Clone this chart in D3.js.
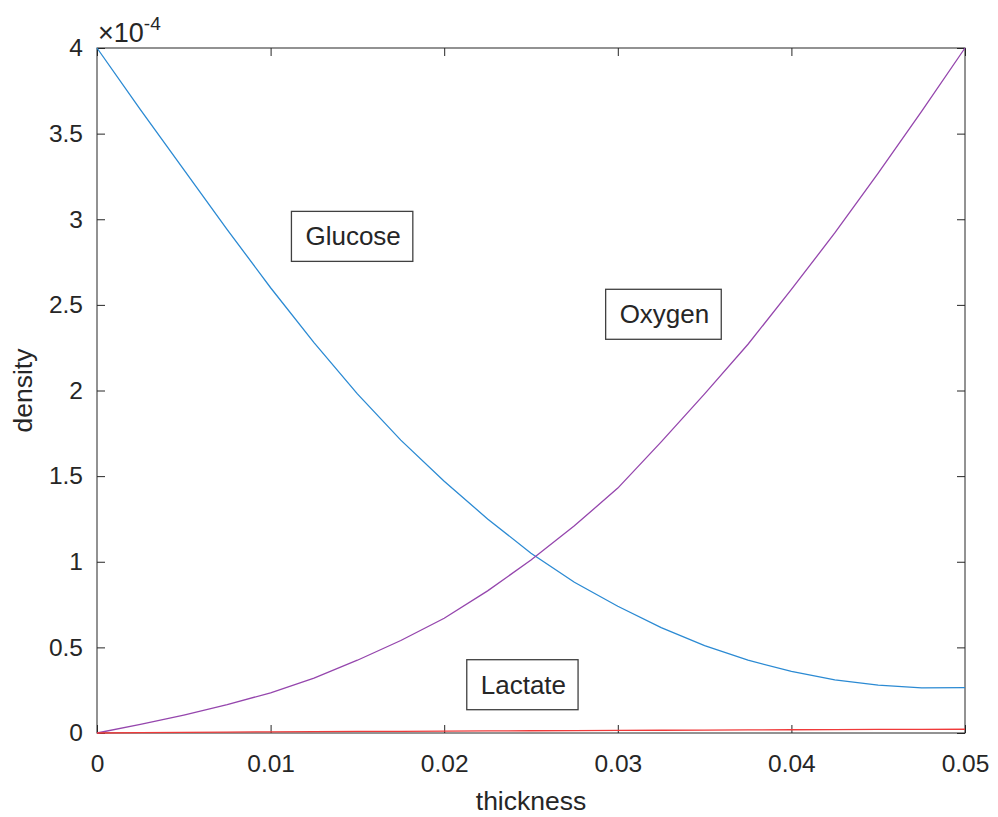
<!DOCTYPE html>
<html>
<head>
<meta charset="utf-8">
<script src="https://cdn.jsdelivr.net/npm/d3@7"></script>
<style>
  body { margin: 0; background: #fff; }
  text { font-family: "Liberation Sans", Arial, Helvetica, sans-serif; fill: #262626; }
</style>
</head>
<body>
<div id="chart"></div>
<script>
// thickness samples and densities (in units of 1e-4)
const thickness = [0, 0.0025, 0.005, 0.0075, 0.01, 0.0125, 0.015, 0.0175, 0.02, 0.0225, 0.025,
    0.0275, 0.03, 0.0325, 0.035, 0.0375, 0.04, 0.0425, 0.045, 0.0475, 0.05];
const glucose = [4.00, 3.64, 3.29, 2.94, 2.60, 2.28, 1.98, 1.71, 1.47, 1.25, 1.05,
    0.88, 0.74, 0.615, 0.51, 0.425, 0.36, 0.31, 0.28, 0.263, 0.265];
const oxygen = [0, 0.05, 0.105, 0.165, 0.235, 0.32, 0.425, 0.54, 0.67, 0.83, 1.01,
    1.21, 1.43, 1.70, 1.98, 2.27, 2.59, 2.92, 3.27, 3.63, 4.00];
const lactate = [0, 0.002, 0.004, 0.005, 0.007, 0.008, 0.009, 0.010, 0.011, 0.012, 0.013,
    0.014, 0.015, 0.016, 0.017, 0.018, 0.019, 0.020, 0.021, 0.021, 0.022];

const xTicks = [0, 0.01, 0.02, 0.03, 0.04, 0.05];
const yTicks = [0, 0.5, 1, 1.5, 2, 2.5, 3, 3.5, 4];

// text boxes placed in data coordinates
const labelNames = ["Glucose", "Oxygen", "Lactate"];
const labelX = [0.0112, 0.0293, 0.0213];
const labelY = [2.90, 2.445, 0.282];

const margin = { top: 48, right: 33, bottom: 84, left: 97 },
    width = 998 - margin.left - margin.right,
    height = 817 - margin.top - margin.bottom;

const svg = d3.select("#chart").append("svg")
    .attr("width", 998)
    .attr("height", 817)
    .append("g")
    .attr("transform", `translate(${margin.left},${margin.top})`);

const xScale = d3.scaleLinear().domain([0, 0.05]).range([0, width]);
const yScale = d3.scaleLinear().domain([0, 4]).range([height, 0]);

const fmt = d => d === 0 ? "0" : String(d);

// axes with inward ticks on all four sides
const tickLen = 8;
function styleAxis(g) {
    g.select(".domain").remove();
    g.selectAll(".tick line").attr("stroke", "#262626");
    g.selectAll(".tick text").style("font-size", "24.5px").attr("fill", "#262626");
}

svg.append("g")
    .attr("transform", `translate(0,${height})`)
    .call(d3.axisBottom(xScale).tickValues(xTicks).tickFormat(fmt).tickSizeInner(-tickLen).tickPadding(22))
    .call(styleAxis);

svg.append("g")
    .call(d3.axisLeft(yScale).tickValues(yTicks).tickFormat(fmt).tickSizeInner(-tickLen).tickPadding(14))
    .call(styleAxis);

svg.append("g")
    .call(d3.axisTop(xScale).tickValues(xTicks).tickFormat("").tickSizeInner(-tickLen))
    .call(styleAxis);

svg.append("g")
    .attr("transform", `translate(${width},0)`)
    .call(d3.axisRight(yScale).tickValues(yTicks).tickFormat("").tickSizeInner(-tickLen))
    .call(styleAxis);

// box
svg.append("rect")
    .attr("x", 0).attr("y", 0)
    .attr("width", width).attr("height", height)
    .attr("fill", "none")
    .attr("stroke", "#262626")
    .attr("stroke-width", 1);

// lines
const line = vals => d3.line()
    .x((d, i) => xScale(thickness[i]))
    .y(d => yScale(d))(vals);

const series = [
    { vals: glucose, color: "#2b8ad3" },
    { vals: oxygen, color: "#9546ad" },
    { vals: lactate, color: "#f03a3a" }
];

series.forEach(s => {
    svg.append("path")
        .attr("d", line(s.vals))
        .attr("fill", "none")
        .attr("stroke", s.color)
        .attr("stroke-width", 1.3);
});

// exponent marker
const expo = svg.append("text")
    .attr("x", 1)
    .attr("y", -6)
    .style("font-size", "27px");
expo.append("tspan").text("\u00d710");
expo.append("tspan").attr("dy", -12).style("font-size", "19px").text("-4");

// axis titles
svg.append("text")
    .attr("text-anchor", "middle")
    .attr("x", width / 2)
    .attr("y", height + 77)
    .style("font-size", "26.5px")
    .text("thickness");

svg.append("text")
    .attr("text-anchor", "middle")
    .attr("transform", `translate(${-65},${height / 2}) rotate(-90)`)
    .style("font-size", "26.5px")
    .text("density");

// text boxes
labelNames.forEach((name, i) => {
    const g = svg.append("g");
    const t = g.append("text")
        .attr("x", xScale(labelX[i]) + 14)
        .attr("y", yScale(labelY[i]))
        .attr("dy", "0.35em")
        .style("font-size", "26px")
        .attr("fill", "#000")
        .text(name);
    const w = t.node().getComputedTextLength();
    g.insert("rect", "text")
        .attr("x", xScale(labelX[i]))
        .attr("y", yScale(labelY[i]) - 25)
        .attr("width", w + 26)
        .attr("height", 50)
        .attr("fill", "#fff")
        .attr("stroke", "#404040")
        .attr("stroke-width", 1.3);
});
</script>
</body>
</html>
